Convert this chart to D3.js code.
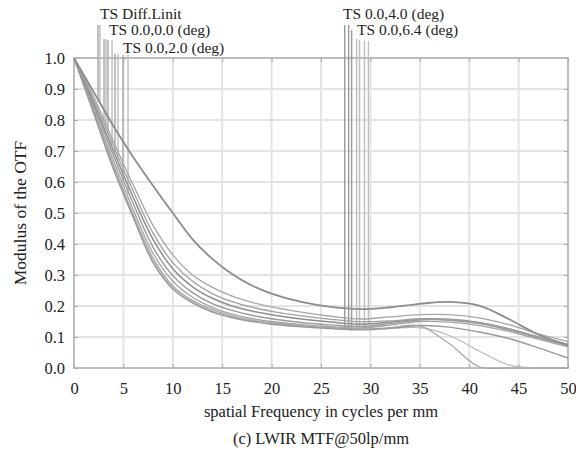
<!DOCTYPE html>
<html>
<head>
<meta charset="utf-8">
<script src="https://cdn.jsdelivr.net/npm/d3@7"></script>
<style>
  body { margin: 0; background: #fff; }
  text { font-family: "Liberation Serif", "Times New Roman", serif; fill: #222; }
</style>
</head>
<body>
<div id="chart"></div>
<script>
// spatial frequency samples (cycles/mm)
const freq = [0, 2, 4, 6, 8, 10, 12, 14, 16, 18, 20, 23, 26, 29, 32, 35, 38, 41, 44, 47, 50];

// MTF curves
const curveA  = [1.0, 0.89, 0.78, 0.68, 0.588, 0.5, 0.415, 0.352, 0.303, 0.266, 0.24, 0.213, 0.197, 0.19, 0.196, 0.207, 0.213, 0.201, 0.158, 0.108, 0.074];
const curveB  = [1.0, 0.875, 0.73, 0.59, 0.46, 0.365, 0.3, 0.26, 0.232, 0.212, 0.197, 0.18, 0.167, 0.158, 0.165, 0.172, 0.172, 0.162, 0.14, 0.11, 0.085];
const curveC1 = [1.0, 0.865, 0.715, 0.57, 0.435, 0.34, 0.28, 0.24, 0.214, 0.196, 0.183, 0.168, 0.157, 0.149, 0.152, 0.158, 0.156, 0.146, 0.127, 0.1, 0.076];
const curveC2 = [1.0, 0.855, 0.7, 0.55, 0.415, 0.32, 0.262, 0.225, 0.2, 0.184, 0.172, 0.158, 0.148, 0.141, 0.148, 0.158, 0.157, 0.147, 0.126, 0.1, 0.075];
const curveC3 = [1.0, 0.845, 0.685, 0.53, 0.39, 0.298, 0.243, 0.208, 0.186, 0.17, 0.159, 0.147, 0.139, 0.134, 0.143, 0.155, 0.154, 0.143, 0.123, 0.097, 0.072];
const curveC4 = [1.0, 0.835, 0.668, 0.51, 0.37, 0.28, 0.228, 0.195, 0.174, 0.16, 0.15, 0.14, 0.133, 0.129, 0.138, 0.15, 0.148, 0.137, 0.118, 0.093, 0.068];
const curveL  = [1.0, 0.82, 0.64, 0.485, 0.34, 0.255, 0.21, 0.18, 0.162, 0.15, 0.141, 0.133, 0.127, 0.123, 0.128, 0.137, 0.132, 0.116, 0.095, 0.065, 0.032];
const curveS1 = [1.0, 0.83, 0.655, 0.495, 0.355, 0.265, 0.218, 0.188, 0.168, 0.155, 0.146, 0.137, 0.13, 0.126, 0.13, 0.136, 0.078, 0.004, 0.0, 0.0, 0.0];
const curveS2 = [1.0, 0.825, 0.648, 0.49, 0.348, 0.26, 0.214, 0.184, 0.165, 0.152, 0.143, 0.135, 0.129, 0.125, 0.128, 0.13, 0.105, 0.055, 0.01, 0.0, 0.0];

const seriesList = [
  {name: "S2", values: curveS2, color: "#bababa", w: 1.2},
  {name: "S1", values: curveS1, color: "#a8a8a8", w: 1.3},
  {name: "L",  values: curveL,  color: "#9a9a9a", w: 1.4},
  {name: "C4", values: curveC4, color: "#a4a4a4", w: 1.3},
  {name: "C3", values: curveC3, color: "#999999", w: 1.4},
  {name: "C2", values: curveC2, color: "#8e8e8e", w: 1.5},
  {name: "C1", values: curveC1, color: "#a0a0a0", w: 1.3},
  {name: "B",  values: curveB,  color: "#a6a6a6", w: 1.3},
  {name: "A",  values: curveA,  color: "#8c8c8c", w: 1.8}
];

// legend pointer lines: [frequency, MTF where the line stops]
const leftPointers  = [[2.43, 0.86], [2.63, 0.85], [3.04, 0.8], [3.24, 0.78], [3.44, 0.76], [3.85, 0.72], [4.15, 0.7], [4.45, 0.67], [4.96, 0.6], [5.47, 0.56]];
const rightPointers = [[27.4, 0.125], [27.8, 0.125], [28.1, 0.13], [28.6, 0.13], [28.9, 0.13], [29.4, 0.135], [29.8, 0.14]];
const legendNames = ["TS Diff.Linit", "TS 0.0,0.0 (deg)", "TS 0.0,2.0 (deg)", "TS 0.0,4.0 (deg)", "TS 0.0,6.4 (deg)"];

const xTicks = [0, 5, 10, 15, 20, 25, 30, 35, 40, 45, 50];
const yTicks = [0, 0.1, 0.2, 0.3, 0.4, 0.5, 0.6, 0.7, 0.8, 0.9, 1.0];

const margin = {top: 58, right: 8, bottom: 86, left: 74},
    width = 576 - margin.left - margin.right,
    height = 454 - margin.top - margin.bottom;

const svgRoot = d3.select("#chart")
  .append("svg")
    .attr("width", 576)
    .attr("height", 454);
const svg = svgRoot.append("g")
    .attr("transform", `translate(${margin.left}, ${margin.top})`);

svgRoot.append("defs").append("clipPath")
    .attr("id", "plotClip")
  .append("rect")
    .attr("width", width).attr("height", height + 1);

const x = d3.scaleLinear().domain([0, 50]).range([0, width]);
const y = d3.scaleLinear().domain([0, 1]).range([height, 0]);

// grid
svg.selectAll("vgrid")
  .data(xTicks)
  .enter()
  .append("line")
    .attr("x1", d => x(d)).attr("x2", d => x(d))
    .attr("y1", 0).attr("y2", height)
    .attr("stroke", "#e4e4e4")
    .attr("stroke-width", 2);
svg.selectAll("hgrid")
  .data(yTicks)
  .enter()
  .append("line")
    .attr("x1", 0).attr("x2", width)
    .attr("y1", d => y(d)).attr("y2", d => y(d))
    .attr("stroke", "#e4e4e4")
    .attr("stroke-width", 2);

// frame with inner ticks
svg.append("rect")
  .attr("width", width).attr("height", height)
  .attr("fill", "none")
  .attr("stroke", "#b4b4b4")
  .attr("stroke-width", 1.6);

const fmt = d3.format(".1f");
svg.append("g")
  .attr("transform", `translate(0, ${height})`)
  .call(d3.axisBottom(x).tickValues(xTicks).tickSize(-4).tickPadding(14).tickFormat(d3.format("d")))
  .call(g => g.select(".domain").remove())
  .call(g => g.selectAll("line").attr("stroke", "#aaa"))
  .call(g => g.selectAll("text").attr("font-size", 16.5).attr("font-family", "Liberation Serif").attr("fill", "#222"));
svg.append("g")
  .call(d3.axisLeft(y).tickValues(yTicks).tickSize(-4).tickPadding(9).tickFormat(fmt))
  .call(g => g.select(".domain").remove())
  .call(g => g.selectAll("line").attr("stroke", "#aaa"))
  .call(g => g.selectAll("text").attr("font-size", 16.5).attr("font-family", "Liberation Serif").attr("fill", "#222"));
svg.append("g")
  .call(d3.axisTop(x).tickValues(xTicks).tickSize(-4).tickFormat(""))
  .call(g => g.select(".domain").remove())
  .call(g => g.selectAll("line").attr("stroke", "#aaa"));
svg.append("g")
  .attr("transform", `translate(${width}, 0)`)
  .call(d3.axisRight(y).tickValues(yTicks).tickSize(-4).tickFormat(""))
  .call(g => g.select(".domain").remove())
  .call(g => g.selectAll("line").attr("stroke", "#aaa"));

// legend pointer lines
const pointerTopsL = [25, 25, 39, 39, 40, 40, 54, 54, 55, 55];
const pointerTopsR = [25, 25, 30, 39, 40, 41, 41];
svg.selectAll("ptrL")
  .data(leftPointers)
  .enter()
  .append("line")
    .attr("x1", d => x(d[0])).attr("x2", d => x(d[0]))
    .attr("y1", (d, i) => pointerTopsL[i] - margin.top)
    .attr("y2", d => y(d[1]))
    .attr("stroke", (d, i) => i % 2 ? "#bdbdbd" : "#a8a8a8")
    .attr("stroke-width", 1.4);
svg.selectAll("ptrR")
  .data(rightPointers)
  .enter()
  .append("line")
    .attr("x1", d => x(d[0])).attr("x2", d => x(d[0]))
    .attr("y1", (d, i) => pointerTopsR[i] - margin.top)
    .attr("y2", d => y(d[1]))
    .attr("stroke", (d, i) => i < 3 ? "#999" : "#bdbdbd")
    .attr("stroke-width", 1.4);

// curves
const line = d3.line()
  .x((d, i) => x(freq[i]))
  .y(d => y(d))
  .curve(d3.curveCatmullRom.alpha(0.5));
svg.append("g")
  .attr("clip-path", "url(#plotClip)")
  .selectAll("path")
  .data(seriesList)
  .enter()
  .append("path")
    .attr("d", d => line(d.values))
    .attr("fill", "none")
    .attr("stroke", d => d.color)
    .attr("stroke-width", d => d.w);

// legend texts
const legendPos = [[100, 19], [109, 35], [123, 53], [343, 19], [357, 35]];
svgRoot.selectAll("legend")
  .data(legendNames)
  .enter()
  .append("text")
    .attr("x", (d, i) => legendPos[i][0])
    .attr("y", (d, i) => legendPos[i][1])
    .attr("font-size", 15.5)
    .text(d => d);

// titles
svgRoot.append("text")
  .attr("text-anchor", "middle")
  .attr("x", margin.left + width / 2)
  .attr("y", 417)
  .attr("font-size", 16.5)
  .text("spatial Frequency in cycles per mm");
svgRoot.append("text")
  .attr("text-anchor", "middle")
  .attr("x", margin.left + width / 2)
  .attr("y", 444)
  .attr("font-size", 16.5)
  .text("(c) LWIR MTF@50lp/mm");
svgRoot.append("text")
  .attr("text-anchor", "middle")
  .attr("transform", `translate(26, ${margin.top + height / 2}) rotate(-90)`)
  .attr("font-size", 17.5)
  .text("Modulus of the OTF");
</script>
</body>
</html>
